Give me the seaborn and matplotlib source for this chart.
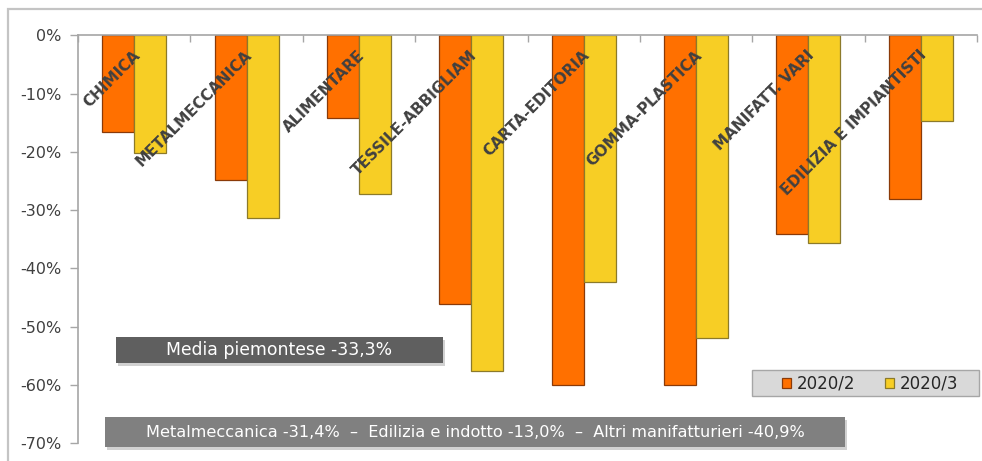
import matplotlib
matplotlib.use("Agg")
import matplotlib.pyplot as plt
import matplotlib.patches as mpatches
from matplotlib.ticker import FixedLocator, FuncFormatter
import pandas as pd
import seaborn as sns

# Sector variations (percent) for the two quarters
sectors = ["CHIMICA", "METALMECCANICA", "ALIMENTARE", "TESSILE-ABBIGLIAM",
           "CARTA-EDITORIA", "GOMMA-PLASTICA", "MANIFATT. VARI",
           "EDILIZIA E IMPIANTISTI"]
periods = ["2020/2", "2020/3"]
var_q2 = [-16.6, -24.9, -14.2, -46.2, -60.0, -60.0, -34.1, -28.1]
var_q3 = [-20.2, -31.3, -27.3, -57.6, -42.4, -51.9, -35.6, -14.8]
y_ticks = [0, -10, -20, -30, -40, -50, -60, -70]

note_avg = "Media piemontese -33,3%"
note_groups = ("Metalmeccanica -31,4%  \u2013  Edilizia e indotto -13,0%  \u2013  "
               "Altri manifatturieri -40,9%")

df = pd.DataFrame({
    "settore": sectors * 2,
    "periodo": [periods[0]] * len(sectors) + [periods[1]] * len(sectors),
    "variazione": var_q2 + var_q3,
})

ORANGE = "#FF7000"
YELLOW = "#F7CE25"
EDGES = ["#8A3A08", "#8C7A2A"]
TXT = "#404040"

sns.set_theme(style="white")
plt.rcParams["font.family"] = ["DejaVu Sans"]

W, H = 982, 461
fig = plt.figure(figsize=(W / 100, H / 100), dpi=100)
fig.patch.set_facecolor("white")

def fx(px):
    return px / W

def fy(py):
    return 1 - py / H

# outer chart frame (continues past the right and bottom edges)
fig.patches.append(mpatches.Rectangle((fx(8), fy(480)), fx(1020) - fx(8), fy(9) - fy(480),
                                      transform=fig.transFigure, fill=False,
                                      edgecolor="#c4c4c4", linewidth=1.6, zorder=0))

ax = fig.add_axes([fx(78), fy(443), fx(977) - fx(78), fy(35.3) - fy(443)])

sns.barplot(data=df, x="settore", y="variazione", hue="periodo",
            palette=[ORANGE, YELLOW], saturation=1, width=0.57,
            linewidth=0.9, ax=ax, legend=True)
for cont, ec in zip(ax.containers, EDGES):
    for bar in cont:
        bar.set_edgecolor(ec)

ax.set_ylim(-70, 0)
ax.set_xlim(-0.5, len(sectors) - 0.5)
ax.set_xlabel("")
ax.set_ylabel("")

# spines: x axis along the top (0%), y axis on the left
for side in ("right", "bottom"):
    ax.spines[side].set_visible(False)
ax.spines["top"].set_color("#a6a6a6")
ax.spines["left"].set_color("#a6a6a6")
ax.spines["top"].set_linewidth(1.2)
ax.spines["left"].set_linewidth(1.2)

ax.yaxis.set_major_locator(FixedLocator(y_ticks))
ax.yaxis.set_major_formatter(FuncFormatter(lambda v, p: f"{v:.0f}%"))
ax.tick_params(axis="y", which="major", left=True, direction="out", length=6,
               width=1, color="#a6a6a6", labelsize=11.5, labelcolor=TXT, pad=6)

# category boundary ticks on the top axis
ax.set_xticks([])
ax.set_xticks([i - 0.5 for i in range(len(sectors) + 1)], minor=True)
ax.tick_params(axis="x", which="minor", bottom=False, top=True, direction="in",
               length=5, width=1, color="#a6a6a6")
ax.tick_params(axis="x", which="major", bottom=False, labelbottom=False)
ax.grid(False)

# rotated sector labels hanging from the axis
for i, name in enumerate(sectors):
    ax.text(i + 0.03, -3.0, name, rotation=45, rotation_mode="anchor",
            ha="right", va="center", fontsize=11, fontweight="bold",
            color=TXT, zorder=5)

# legend
handles, labels = ax.get_legend_handles_labels()
ax.get_legend().remove()
fig.patches.append(mpatches.Rectangle((fx(752), fy(396)), fx(979) - fx(752), fy(370) - fy(396),
                                      transform=fig.transFigure, facecolor="#d9d9d9",
                                      edgecolor="#a6a6a6", linewidth=1.0, zorder=3))
leg = fig.legend(handles, labels, loc="center",
                 bbox_to_anchor=(fx(870), fy(383.5)), bbox_transform=fig.transFigure,
                 ncol=2, frameon=False, fontsize=12, handlelength=0.55,
                 handleheight=0.55, handletextpad=0.35, columnspacing=1.8,
                 borderpad=0.2)
for h, ec in zip(leg.legend_handles, EDGES):
    h.set_edgecolor(ec)
for t in leg.get_texts():
    t.set_color("#262626")
leg.set_zorder(4)

# annotation boxes
def note_box(x0, y0, x1, y1, color, text, size):
    fig.patches.append(mpatches.Rectangle((fx(x0 + 2), fy(y1 + 3)), fx(x1) - fx(x0), fy(y0) - fy(y1),
                                          transform=fig.transFigure, facecolor="#000000",
                                          alpha=0.18, linewidth=0, zorder=3))
    fig.patches.append(mpatches.Rectangle((fx(x0), fy(y1)), fx(x1) - fx(x0), fy(y0) - fy(y1),
                                          transform=fig.transFigure, facecolor=color,
                                          linewidth=0, zorder=3))
    fig.text(fx((x0 + x1) / 2), fy((y0 + y1) / 2), text, ha="center", va="center",
             color="white", fontsize=size, zorder=4)

note_box(116, 337, 443, 363, "#5f5f5f", note_avg, 12.4)
note_box(105, 417, 845, 447, "#808080", note_groups, 11.6)

fig.savefig("out.png", dpi=100)
